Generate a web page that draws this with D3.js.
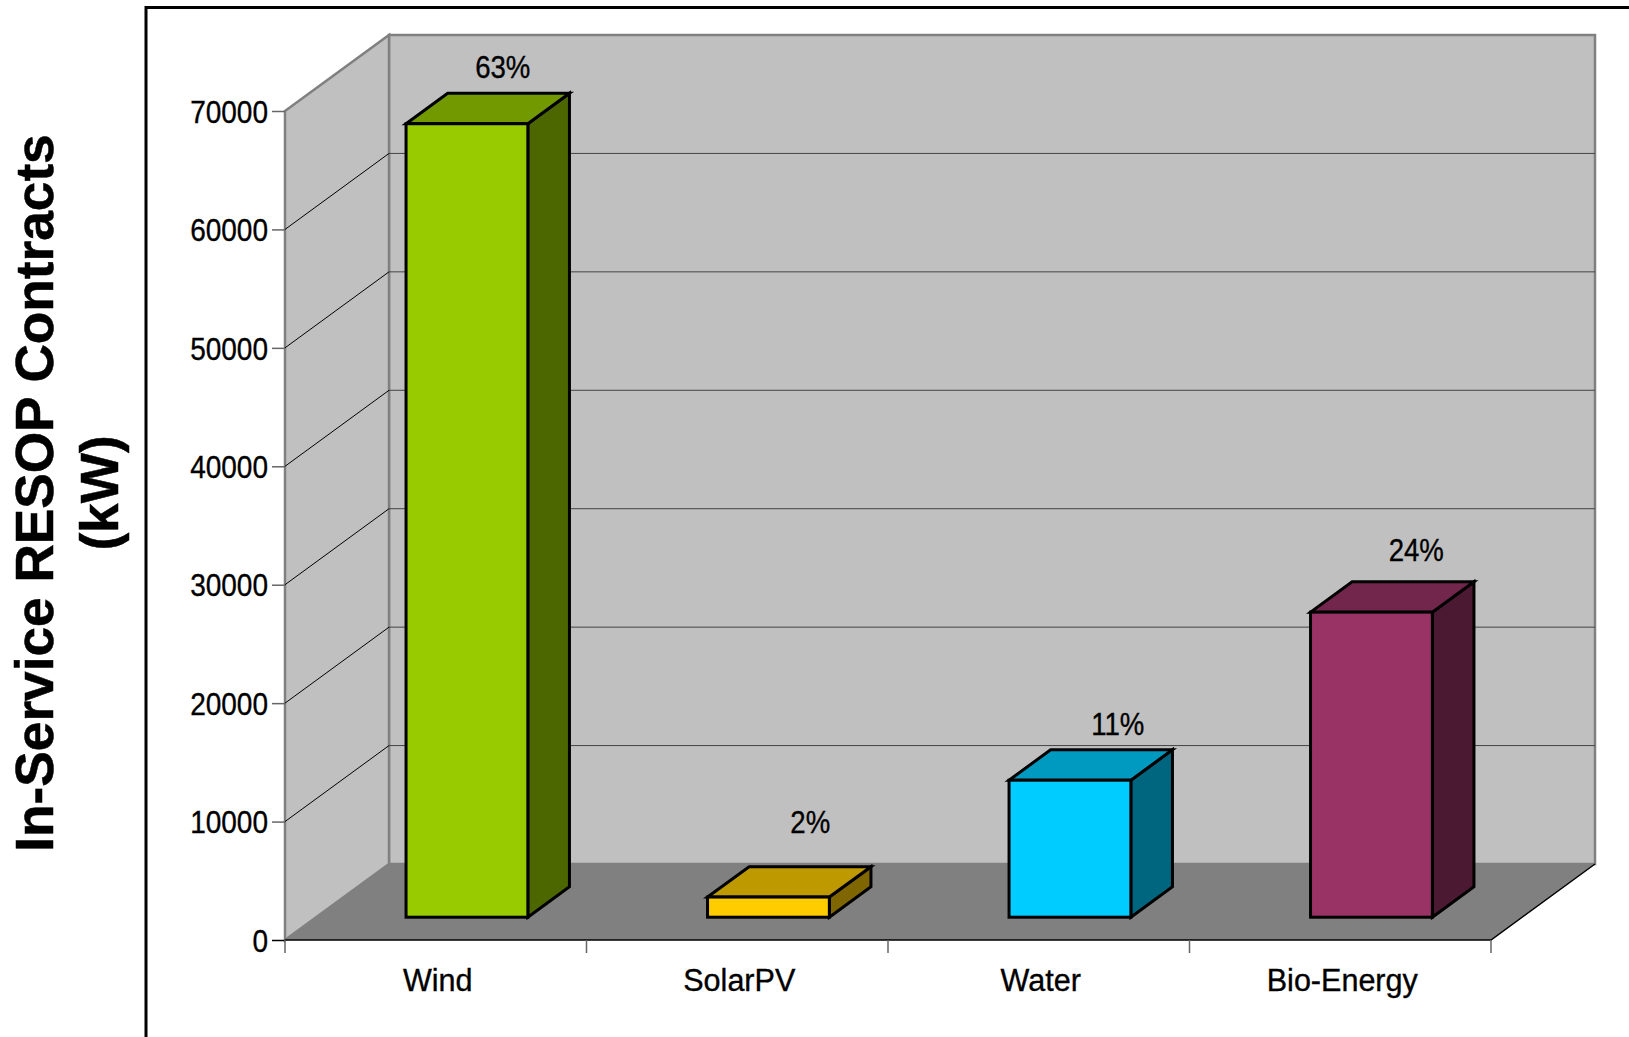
<!DOCTYPE html>
<html>
<head>
<meta charset="utf-8">
<script src="https://cdn.jsdelivr.net/npm/d3@7"></script>
<style>
  html, body { margin: 0; padding: 0; background: #fff; overflow: hidden; }
  text { fill: #000; }
  .tick-label { font-family: "Liberation Sans", Arial, sans-serif; font-size: 31px; stroke: #000; stroke-width: 0.35px; }
</style>
</head>
<body>
<div id="chart"></div>
<script>
// DATA ------------------------------------------------------------------
const categories = ["Wind", "SolarPV", "Water", "Bio-Energy"]
const contractsKw = [67000, 1700, 11570, 25760]
const shareLabels = ["63%", "2%", "11%", "24%"]
const yTicks = [0, 10000, 20000, 30000, 40000, 50000, 60000, 70000]
const titleLines = ["In-Service RESOP Contracts", "(kW)"]

// COLOURS + LAYOUT ------------------------------------------------------
const frontColors = ["#99cc00", "#ffcc00", "#00ccff", "#993366"]
const topColors   = ["#729900", "#bf9900", "#0099bf", "#72264c"]
const sideColors  = ["#4c6600", "#806600", "#006680", "#4c1933"]

const width = 1629, height = 1037
const plot = { left: 285, right: 1491, top: 111, bottom: 940 }
const depth = { dx: 104, dy: -76 } // how far the back wall is shifted from the front
const barDepth = 0.4, barGap = 0.3 // fractions of the floor depth
const labelShift = [[15, -26], [21, -44], [27, -25], [24, -31]] // percent labels, from the bar's top centre

const svg = d3.select("#chart").append("svg")
  .attr("width", width)
  .attr("height", height)
  .style("display", "block")

// SCALES ----------------------------------------------------------------
const x = d3.scaleBand()
  .domain(categories)
  .range([plot.left, plot.right])
  .paddingInner(0.596)
  .paddingOuter(0.298)

const y = d3.scaleLinear()
  .domain([0, 70000])
  .range([plot.bottom, plot.top])

const poly = pts => pts.map(p => p.join(",")).join(" ")

// the reference type is narrower than Liberation Sans and no narrow cut is installed
const squeeze = (selection, ratio) => selection.each(function() {
  d3.select(this)
    .attr("textLength", this.getComputedTextLength() * ratio)
    .attr("lengthAdjust", "spacingAndGlyphs")
})

// OUTER FRAME (runs off the page on the right and bottom) ---------------
svg.append("path")
  .attr("d", `M146,${height} V7.5 H${width}`)
  .attr("fill", "none")
  .attr("stroke", "#000")
  .attr("stroke-width", 3)

// WALLS AND FLOOR -------------------------------------------------------
const backLeft = plot.left + depth.dx, backRight = plot.right + depth.dx
const backTop = plot.top + depth.dy, backBottom = plot.bottom + depth.dy

svg.append("polygon") // back wall
  .attr("points", poly([[backLeft, backTop], [backRight, backTop], [backRight, backBottom], [backLeft, backBottom]]))
  .attr("fill", "#c0c0c0")
  .attr("stroke", "#808080")
  .attr("stroke-width", 2.5)

svg.append("polygon") // side wall
  .attr("points", poly([[plot.left, plot.top], [backLeft, backTop], [backLeft, backBottom], [plot.left, plot.bottom]]))
  .attr("fill", "#c0c0c0")
  .attr("stroke", "#808080")
  .attr("stroke-width", 2.5)

svg.append("polygon") // floor
  .attr("points", poly([[plot.left, plot.bottom], [backLeft, backBottom], [backRight, backBottom], [plot.right, plot.bottom]]))
  .attr("fill", "#808080")

svg.append("path") // floor's front and right edge
  .attr("d", `M${plot.left},${plot.bottom} H${plot.right} L${backRight},${backBottom}`)
  .attr("fill", "none")
  .attr("stroke", "#000")
  .attr("stroke-width", 1.5)

// GRIDLINES -------------------------------------------------------------
const inner = yTicks.filter(d => d > 0 && d < 70000)

svg.append("g").selectAll("line")
  .data(inner)
  .join("line")
  .attr("x1", backLeft)
  .attr("x2", backRight)
  .attr("y1", d => y(d) + depth.dy)
  .attr("y2", d => y(d) + depth.dy)
  .attr("stroke", "#444")
  .attr("stroke-width", 1)

svg.append("g").selectAll("line")
  .data(inner)
  .join("line")
  .attr("x1", plot.left)
  .attr("x2", backLeft)
  .attr("y1", d => y(d))
  .attr("y2", d => y(d) + depth.dy)
  .attr("stroke", "#000")
  .attr("stroke-width", 1)

// AXES ------------------------------------------------------------------
const yAxis = svg.append("g")
  .attr("transform", `translate(${plot.left},0)`)
  .call(d3.axisLeft(y).tickValues(yTicks).tickSize(13).tickPadding(4).tickFormat(d3.format("d")))
yAxis.select(".domain").remove()
yAxis.selectAll("line").attr("stroke", d => d === 0 ? "#000" : "#666").attr("stroke-width", 1.5)
yAxis.selectAll("text").attr("class", "tick-label").attr("fill", "#000").attr("dy", "0.36em").call(squeeze, 0.903)
yAxis.attr("font-family", null).attr("font-size", null)

const xAxis = svg.append("g")
  .attr("transform", "translate(2," + plot.bottom + ")")
  .call(d3.axisBottom(x).tickSize(0).tickPadding(29))
xAxis.select(".domain").remove()
xAxis.selectAll("line").remove()
xAxis.selectAll("text").attr("class", "tick-label").attr("fill", "#000").call(squeeze, 0.985)
xAxis.attr("font-family", null).attr("font-size", null)

// separators sit on the band edges, not on the band centres
const bandEdges = categories.map(c => x(c) - x.step() * x.paddingOuter()).concat(plot.right)
svg.append("g").selectAll("line")
  .data(bandEdges)
  .join("line")
  .attr("x1", d => d)
  .attr("x2", d => d)
  .attr("y1", plot.bottom)
  .attr("y2", plot.bottom + 13)
  .attr("stroke", "#666")
  .attr("stroke-width", 1.5)

// BARS ------------------------------------------------------------------
const bars = categories.map((name, i) => {
  const x0 = x(name) + depth.dx * barGap
  const x1 = x0 + x.bandwidth()
  const base = plot.bottom + depth.dy * barGap
  const top = base - (plot.bottom - y(contractsKw[i]))
  return { i, x0, x1, base, top, ox: depth.dx * barDepth, oy: depth.dy * barDepth }
})

const barG = svg.append("g").selectAll("g")
  .data(bars)
  .join("g")
  .attr("stroke", "#000")
  .attr("stroke-width", 3)
  .attr("stroke-linejoin", "miter")

barG.append("polygon") // side
  .attr("points", d => poly([[d.x1, d.top], [d.x1 + d.ox, d.top + d.oy], [d.x1 + d.ox, d.base + d.oy], [d.x1, d.base]]))
  .attr("fill", d => sideColors[d.i])

barG.append("polygon") // top
  .attr("points", d => poly([[d.x0, d.top], [d.x0 + d.ox, d.top + d.oy], [d.x1 + d.ox, d.top + d.oy], [d.x1, d.top]]))
  .attr("fill", d => topColors[d.i])

barG.append("rect") // front
  .attr("x", d => d.x0)
  .attr("y", d => d.top)
  .attr("width", d => d.x1 - d.x0)
  .attr("height", d => d.base - d.top)
  .attr("fill", d => frontColors[d.i])

// PERCENT LABELS --------------------------------------------------------
svg.append("g").selectAll("text")
  .data(bars)
  .join("text")
  .attr("class", "tick-label")
  .attr("text-anchor", "middle")
  .attr("dominant-baseline", "central")
  .attr("x", d => (d.x0 + d.x1 + d.ox) / 2 + labelShift[d.i][0])
  .attr("y", d => d.top + d.oy + labelShift[d.i][1])
  .text(d => shareLabels[d.i])
  .call(squeeze, 0.89)

// Y TITLE ---------------------------------------------------------------
svg.append("g").selectAll("text")
  .data(titleLines)
  .join("text")
  .attr("transform", (d, i) => `translate(${53 + i * 65},493) rotate(-90)`)
  .attr("text-anchor", "middle")
  .attr("font-family", "'Liberation Sans', Arial, sans-serif")
  .attr("font-weight", "bold")
  .attr("font-size", 54)
  .attr("stroke", "#000")
  .attr("stroke-width", 0.5)
  .text(d => d)
  .call(squeeze, 0.985)
</script>
</body>
</html>
